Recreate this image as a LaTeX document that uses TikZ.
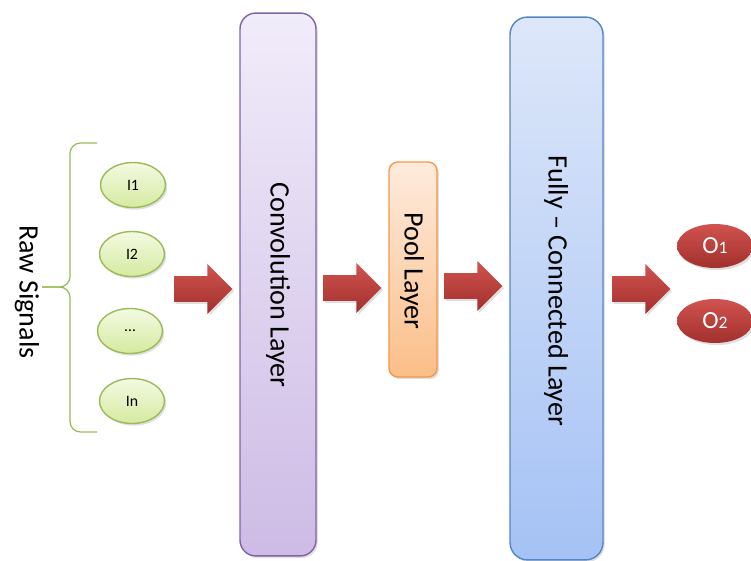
\documentclass[tikz,border=0pt]{standalone}
\usepackage{fontspec}
\setmainfont{Carlito}
\usepackage{tikz}
\usetikzlibrary{positioning, shapes.arrows, shapes.geometric, shadows}
\definecolor{convtop}{HTML}{F1ECFA}
\definecolor{convbot}{HTML}{CDBBE5}
\definecolor{convline}{HTML}{8064A2}
\definecolor{pooltop}{HTML}{FDEBDD}
\definecolor{poolbot}{HTML}{FBBE88}
\definecolor{poolline}{HTML}{F79646}
\definecolor{fctop}{HTML}{DDE7F9}
\definecolor{fcbot}{HTML}{A5C2F5}
\definecolor{fcline}{HTML}{5585C5}
\definecolor{intop}{HTML}{F3FAE2}
\definecolor{inbot}{HTML}{D5EAA0}
\definecolor{inline}{HTML}{9BBB59}
\definecolor{redtop}{HTML}{D0534F}
\definecolor{redbot}{HTML}{A2302D}
\tikzset{
soft shadow/.style = { drop shadow = {opacity = 0.25, shadow xshift = 1pt, shadow yshift = -1.2pt} },
layer/.style = { rectangle, draw, line width = 0.8pt, inner sep = 0pt, soft shadow },
conv layer/.style = { layer, draw = convline, top color = convtop, bottom color = convbot, minimum width = 1.52cm, minimum height = 10.86cm, rounded corners = 9pt },
pool layer/.style = { layer, draw = poolline, top color = pooltop, bottom color = poolbot, minimum width = 0.96cm, minimum height = 4.3cm, rounded corners = 5pt },
fc layer/.style = { layer, draw = fcline, top color = fctop, bottom color = fcbot, minimum width = 1.86cm, minimum height = 10.86cm, rounded corners = 10pt },
layer text/.style = { rotate = -90, font = \fontsize{16}{18}\selectfont, text = black },
input/.style = { ellipse, draw = inline, line width = 0.8pt, top color = intop, bottom color = inbot, minimum width = 1.3cm, minimum height = 0.9cm, inner sep = 0pt, font = \fontsize{9}{10}\selectfont, soft shadow },
output/.style = { ellipse, draw = none, top color = redtop, bottom color = redbot, minimum width = 1.52cm, minimum height = 0.88cm, inner sep = 0pt, text = white, font = \fontsize{14}{16}\selectfont, soft shadow },
step arrow/.style = { single arrow, anchor = tail, draw = none, top color = redtop, bottom color = redbot, minimum height = 1.16cm, minimum width = 0.98cm, inner sep = 0.25cm, single arrow head extend = 0.24cm, soft shadow },
brace line/.style = { draw = inline, line width = 0.7pt, rounded corners = 6pt },
}
\newcommand{\outsub}[1]{{\fontsize{10}{12}\selectfont #1}}

\begin{document}
\begin{tikzpicture}[x = 0.02cm, y = -0.02cm]
    \useasboundingbox (0, 0) rectangle (751, 561);
    % layers
    \node[conv layer] (conv) at (278, 284.5) {};
    \node[pool layer] (pool) at (413, 269.5) {};
    \node[fc layer] (fc) at (556.5, 288.5) {};
    \node[layer text] (conv text) at (278, 285) {Convolution Layer};
    \node[layer text] (pool text) at (412, 271) {Pool Layer};
    \node[layer text] (fc text) at (556, 291) {Fully -- Connected Layer};
    % raw signals
    \node[input] (in1) at (133, 185) {I1};
    \node[input] (in2) at (132, 254) {I2};
    \node[input] (in3) at (130, 331) {\dots};
    \node[input] (in4) at (132, 401) {In};
    \draw[brace line] (97, 143) -- (70, 143) -- (70, 287) -- (42, 287);
    \draw[brace line] (97, 432) -- (70, 432) -- (70, 287) -- (42, 287);
    \node[layer text] (raw) at (27, 292) {Raw Signals};
    % outputs
    \node[output] (out1) at (715, 246) {O\outsub{1}};
    \node[output] (out2) at (715, 321) {O\outsub{2}};
    % arrows
    \node[step arrow] (a1) at (174, 289) {};
    \node[step arrow] (a2) at (323, 288) {};
    \node[step arrow] (a3) at (444, 286) {};
    \node[step arrow] (a4) at (612, 289) {};
\end{tikzpicture}
\end{document}
